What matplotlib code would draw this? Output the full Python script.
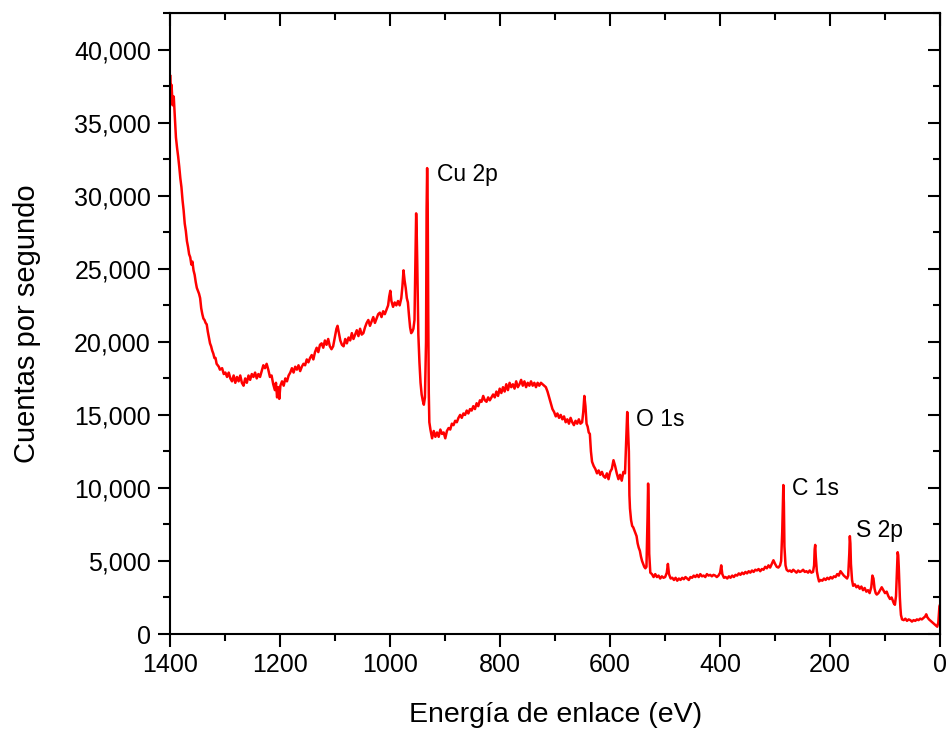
import matplotlib
matplotlib.use("Agg")
import matplotlib.pyplot as plt
from matplotlib.ticker import MultipleLocator, FuncFormatter

plt.rcParams['font.family'] = ['Liberation Sans', 'DejaVu Sans']

# Binding energy (eV) and counts per second
energy = [
    1400, 1399, 1398, 1396, 1394, 1392, 1390, 1388, 1386, 1384, 1382, 1380, 1378, 1376, 1374, 1372,
    1370, 1368, 1366, 1364, 1362, 1360, 1358, 1356, 1354, 1352, 1350, 1348, 1346, 1344, 1342, 1340,
    1338, 1336, 1334, 1332, 1330, 1328, 1326, 1324, 1322, 1320, 1318, 1316, 1314, 1312, 1310, 1306,
    1303, 1300, 1297, 1294, 1291, 1288, 1285, 1282, 1279, 1276, 1273, 1270, 1267, 1264, 1261, 1258,
    1255, 1252, 1249, 1246, 1243, 1240, 1237, 1234, 1231, 1228, 1225, 1222, 1219, 1216, 1213, 1210,
    1208, 1206, 1204, 1202, 1200, 1197, 1194, 1191, 1188, 1185, 1182, 1179, 1176, 1173, 1170, 1167,
    1164, 1161, 1158, 1155, 1152, 1149, 1146, 1143, 1140, 1137, 1134, 1131, 1128, 1125, 1122, 1119,
    1116, 1113, 1110, 1107, 1104, 1101, 1098, 1096, 1094, 1091, 1088, 1085, 1082, 1079, 1076, 1073,
    1070, 1067, 1064, 1061, 1058, 1055, 1052, 1049, 1046, 1043, 1040, 1037, 1034, 1031, 1028, 1025,
    1022, 1019, 1016, 1013, 1010, 1007, 1004, 1002, 1000, 998, 995, 992, 989, 986, 983, 980,
    978, 976, 974, 972, 970, 968, 966, 964, 962, 960, 958, 956, 955, 954, 953, 952,
    951, 950, 949, 947, 945, 943, 941, 939, 937, 935, 934, 933, 932, 931, 930, 929,
    927, 924, 921, 918, 915, 912, 909, 906, 903, 900, 897, 894, 891, 888, 885, 882,
    879, 876, 873, 870, 867, 864, 861, 858, 855, 852, 849, 846, 843, 840, 837, 834,
    831, 828, 825, 822, 819, 816, 813, 810, 807, 804, 801, 798, 795, 792, 789, 786,
    783, 780, 777, 774, 771, 768, 765, 762, 759, 756, 753, 750, 747, 744, 741, 738,
    735, 732, 729, 726, 723, 720, 717, 714, 711, 708, 705, 702, 699, 696, 693, 690,
    687, 684, 681, 678, 675, 672, 669, 666, 663, 660, 657, 654, 651, 649, 647, 645,
    643, 641, 639, 637, 635, 633, 630, 627, 624, 621, 618, 615, 612, 609, 606, 603,
    600, 597, 594, 591, 588, 585, 582, 579, 576, 573, 571, 569, 568, 566, 565, 564,
    562, 560, 558, 556, 554, 552, 550, 548, 546, 544, 542, 540, 538, 536, 534, 532,
    531, 530, 529, 527, 524, 521, 518, 515, 512, 509, 506, 503, 500, 497, 495, 493,
    490, 487, 484, 481, 478, 475, 472, 469, 466, 463, 460, 457, 454, 451, 448, 445,
    442, 439, 436, 433, 430, 427, 424, 421, 418, 415, 412, 409, 406, 403, 400, 398,
    396, 393, 390, 387, 384, 381, 378, 375, 372, 369, 366, 363, 360, 357, 354, 351,
    348, 345, 342, 339, 336, 333, 330, 327, 324, 321, 318, 315, 312, 309, 306, 303,
    300, 297, 294, 291, 289, 287, 285, 284, 283, 281, 279, 276, 273, 270, 267, 264,
    261, 258, 255, 252, 249, 246, 243, 240, 237, 234, 231, 229, 228, 227, 226, 224,
    222, 220, 217, 214, 211, 208, 205, 202, 199, 196, 193, 190, 187, 184, 181, 178,
    175, 172, 169, 167, 165, 164, 163, 162, 160, 158, 155, 152, 149, 146, 143, 140,
    137, 134, 131, 128, 125, 123, 121, 119, 117, 115, 112, 109, 106, 103, 100, 97,
    94, 91, 88, 86, 84, 82, 80, 78, 77, 76, 75, 74, 73, 72, 71, 69,
    66, 63, 60, 57, 54, 51, 48, 45, 42, 39, 36, 33, 30, 27, 25, 23,
    20, 17, 14, 11, 8, 5, 3, 1, 0,
]
counts = [
    38200, 36400, 37600, 36200, 36800, 35400, 34000, 33300, 32700, 32000, 31200, 30600, 29700, 29000, 28100, 27600,
    26900, 26500, 26000, 25800, 25300, 25500, 24900, 24600, 24100, 23700, 23500, 23300, 23000, 22300, 21900, 21600,
    21500, 21300, 21200, 20700, 20300, 19900, 19700, 19400, 19200, 18900, 18900, 18500, 18400, 18300, 18100, 18200,
    17800, 17900, 17600, 17900, 17500, 17300, 17700, 17200, 17600, 17300, 17700, 17200, 17000, 17500, 17200, 17700,
    17400, 17800, 17600, 17900, 17500, 17800, 17600, 18000, 18400, 18200, 18500, 18100, 17600, 17700, 17100, 16700,
    17200, 16200, 16900, 16100, 17000, 17300, 17000, 17500, 17300, 17700, 17900, 18200, 17900, 18300, 18100, 18400,
    18000, 18300, 18500, 18400, 18800, 18600, 18900, 19100, 18800, 19300, 19600, 19300, 19800, 19900, 19600, 20100,
    19800, 20200, 19700, 19500, 19700, 20300, 20900, 21100, 20700, 20100, 19800, 19700, 20200, 19900, 20300, 20100,
    20600, 20200, 20500, 20800, 20400, 20900, 20500, 20600, 21000, 21300, 21500, 21100, 21400, 21700, 21300, 21600,
    21900, 22000, 21700, 22100, 21900, 22200, 22500, 23100, 23500, 22800, 22400, 22700, 22500, 22800, 22500, 23000,
    23800, 24900, 24200, 23700, 23000, 22700, 21800, 21000, 20600, 20700, 20900, 21500, 24000, 27000, 28800, 27500,
    25500, 23000, 20500, 18600, 17200, 16400, 16000, 15700, 16200, 20000, 29000, 31900, 29500, 22000, 16500, 14500,
    14000, 13400, 13900, 13500, 13800, 13500, 14000, 13700, 13800, 13400, 13900, 14100, 14000, 14400, 14300, 14600,
    14500, 14800, 15000, 14800, 15100, 15000, 15300, 15100, 15400, 15300, 15600, 15400, 15800, 15600, 16000, 15900,
    16300, 16000, 15900, 16200, 16000, 16200, 16400, 16200, 16600, 16300, 16800, 16500, 16900, 16600, 17100, 16700,
    17200, 16900, 17100, 16800, 17300, 16900, 17100, 17400, 17000, 17300, 16900, 17200, 17000, 17300, 17000, 17200,
    16900, 17200, 17000, 17200, 17100, 17000, 16900, 16600, 16200, 15800, 15400, 15200, 14900, 15100, 14800, 15000,
    14700, 14900, 14500, 14700, 14400, 14800, 14500, 14300, 14600, 14400, 14700, 14400, 14500, 15200, 16300, 15600,
    14400, 14200, 13800, 13700, 12500, 11800, 11500, 11300, 11000, 11200, 10900, 11100, 10800, 10700, 11000, 10600,
    11100, 11300, 11900, 11500, 11000, 10600, 10900, 10500, 11100, 11000, 13000, 15200, 14500, 12500, 9500, 8600,
    7800, 7400, 7300, 7100, 6900, 6700, 6200, 5900, 5700, 5300, 5000, 4800, 4600, 4500, 4600, 8000,
    10300, 9000, 5500, 4200, 4100, 3900, 4100, 3900, 4000, 3800, 3950, 3850, 3900, 4200, 4800, 4100,
    3800, 3850, 3700, 3850, 3650, 3800, 3700, 3850, 3750, 3900, 3800, 3700, 3900, 3850, 4000, 3900,
    4050, 3900, 4100, 3950, 4000, 3900, 4100, 4000, 4050, 3950, 4050, 4000, 3900, 4000, 4200, 4700,
    4100, 3850, 3900, 3800, 3950, 3850, 4000, 3900, 4050, 4000, 4150, 4050, 4200, 4100, 4250, 4150,
    4300, 4200, 4350, 4250, 4400, 4350, 4450, 4300, 4450, 4400, 4600, 4500, 4700, 4550, 4800, 5050,
    4800, 4600, 4550, 4700, 5000, 7000, 10200, 9000, 6000, 4700, 4400, 4300, 4350, 4250, 4400, 4300,
    4200, 4350, 4250, 4300, 4400, 4250, 4300, 4200, 4350, 4200, 4250, 4700, 5800, 6100, 5300, 4300,
    3900, 3600, 3700, 3650, 3800, 3700, 3850, 3750, 3900, 3800, 3950, 3900, 4100, 4000, 4300, 4150,
    4000, 3900, 3800, 4000, 5500, 6700, 6200, 4800, 3700, 3300, 3400, 3200, 3300, 3100, 3250, 3000,
    3150, 2900, 3000, 2800, 3200, 4000, 3800, 3100, 2800, 2700, 2800, 3000, 3200, 3000, 2800, 2900,
    2600, 2400, 2500, 2300, 2100, 2000, 2600, 4500, 5600, 5400, 4600, 3500, 2500, 1800, 1300, 1000,
    950, 1050, 900, 1000, 950, 850, 950, 900, 1000, 950, 1050, 1000, 1100, 1200, 1350, 1150,
    1000, 900, 800, 700, 600, 500, 800, 1900, 2000,
]

peak_labels = ["Cu 2p", "O 1s", "C 1s", "S 2p"]
label_x = [915, 553, 269, 153]
label_y = [31440, 14660, 9930, 7120]

fig = plt.figure(figsize=(9.49, 7.30), dpi=100)
ax = fig.add_axes([0.1796, 0.1315, 0.8109, 0.8503])

ax.plot(energy, counts, color='#ff0000', linewidth=1.8)

for lab, lx, ly in zip(peak_labels, label_x, label_y):
    ax.text(lx, ly, lab, fontsize=16.5, ha='left', va='center')

ax.set_xlim(1400, 0)
ax.set_ylim(0, 42500)
ax.xaxis.set_major_locator(MultipleLocator(200))
ax.xaxis.set_minor_locator(MultipleLocator(100))
ax.yaxis.set_major_locator(MultipleLocator(5000))
ax.yaxis.set_minor_locator(MultipleLocator(2500))
ax.yaxis.set_major_formatter(FuncFormatter(lambda v, p: f"{int(v):,}"))

for sp in ax.spines.values():
    sp.set_linewidth(1.5)

ax.tick_params(which='both', direction='out', width=1.5, labelsize=18, top=False, right=False)
ax.tick_params(which='major', length=9, pad=5)
ax.tick_params(which='minor', length=5)

# inward ticks on top and right without labels
axt = ax.secondary_xaxis('top')
axt.xaxis.set_major_locator(MultipleLocator(200))
axt.xaxis.set_minor_locator(MultipleLocator(100))
axt.tick_params(which='both', direction='in', width=1.5, labeltop=False)
axt.tick_params(which='major', length=9)
axt.tick_params(which='minor', length=5)
axr = ax.secondary_yaxis('right')
axr.yaxis.set_major_locator(MultipleLocator(5000))
axr.yaxis.set_minor_locator(MultipleLocator(2500))
axr.tick_params(which='both', direction='in', width=1.5, labelright=False)
axr.tick_params(which='major', length=9)
axr.tick_params(which='minor', length=5)

ax.set_xlabel("Energía de enlace (eV)", fontsize=20.5, labelpad=18)
ax.set_ylabel("Cuentas por segundo", fontsize=21, labelpad=24)

fig.savefig("out.png", dpi=100)
